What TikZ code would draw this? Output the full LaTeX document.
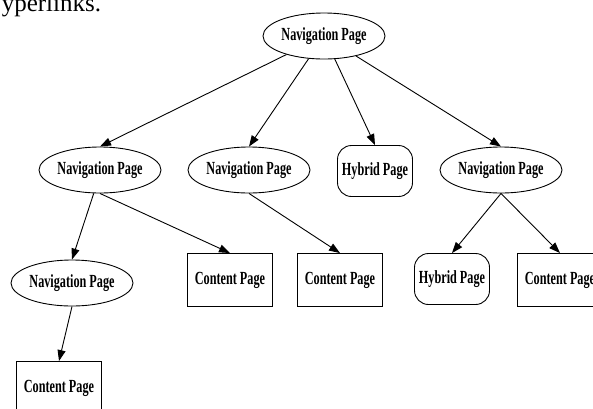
\documentclass[tikz,border=0pt]{standalone}
\usepackage{fontspec}
\setmainfont{Liberation Serif}
\newfontfamily\gvfont[FakeStretch=0.66]{Liberation Serif}
\usetikzlibrary{arrows.meta,shapes.geometric}

\begin{document}
\begin{tikzpicture}[x=1pt, y=-1pt, line width=0.9pt, >={Triangle[length=11pt,width=8pt]},
    pagefont/.style={font=\fontsize{18.5}{20}\selectfont\gvfont\bfseries},
    nav/.style={ellipse, draw, inner sep=0pt, minimum width=122pt, minimum height=46pt, pagefont},
    hybrid/.style={rectangle, rounded corners=14pt, draw, minimum width=75pt, minimum height=51pt, pagefont},
    content/.style={rectangle, draw, minimum width=85pt, minimum height=53pt, pagefont}]
      \useasboundingbox (0,0) rectangle (593,408);

      \node[anchor=base west, font=\fontsize{25}{28}\selectfont] (caption) at (-2,11) {yperlinks.};

      \node[nav] (root) at (324,36) {Navigation Page};

      \node[nav] (nav1) at (100,170) {Navigation Page};
      \node[nav] (nav2) at (249,170) {Navigation Page};
      \node[hybrid] (hyb1) at (375,171) {Hybrid Page};
      \node[nav] (nav3) at (501,170) {Navigation Page};

      \node[nav] (nav4) at (72,283) {Navigation Page};
      \node[content] (con1) at (230,280) {Content Page};
      \node[content] (con2) at (340,280) {Content Page};
      \node[hybrid] (hyb2) at (452,279) {Hybrid Page};
      \node[content] (con3) at (560,280) {Content Page};

      \node[content] (con4) at (59,388) {Content Page};

      \draw[->] (root) -- (nav1.north);
      \draw[->] (root) -- (nav2.north);
      \draw[->] (root) -- (hyb1.north);
      \draw[->] (root) -- (nav3.north);

      \draw[->] (nav1.255) -- (nav4.north);
      \draw[->] (nav1.south) -- (con1.north);
      \draw[->] (nav2.south) -- (con2.north);
      \draw[->] (nav3.south) -- (hyb2.north);
      \draw[->] (nav3.south) -- (con3.north);

      \draw[->] (nav4.south) -- (con4.north);
    \end{tikzpicture}
\end{document}
